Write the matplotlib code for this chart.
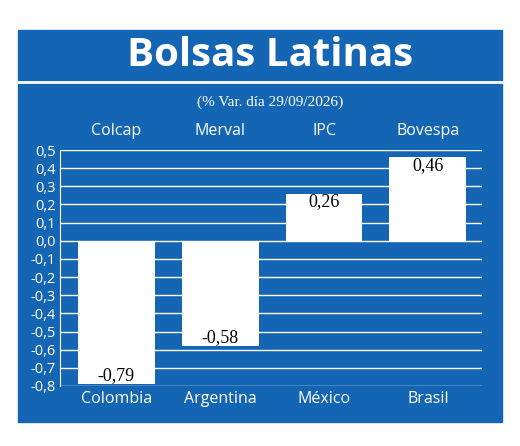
import matplotlib
matplotlib.use("Agg")
import matplotlib.pyplot as plt
from matplotlib.patches import Rectangle

countries = ["Colombia", "Argentina", "México", "Brasil"]
indices = ["Colcap", "Merval", "IPC", "Bovespa"]
values = [-0.79, -0.58, 0.26, 0.46]
yticks = [0.5,0.4,0.3,0.2,0.1,0.0,-0.1,-0.2,-0.3,-0.4,-0.5,-0.6,-0.7,-0.8]

W, H = 520, 446
blue = "#1466b4"
fig = plt.figure(figsize=(5.2, 4.46), dpi=100)
fig.patch.set_facecolor("white")
bg = Rectangle((18/W, 1-422/H), (502-18)/W, (422-30)/H, transform=fig.transFigure, color=blue, zorder=-10)
fig.patches.append(bg)
fig.add_artist(plt.Line2D([18/W, 502/W], [1-82/H, 1-82/H], color="white", lw=2))
fig.text(270/W, 1-55/H, "Bolsas Latinas", color="white", fontsize=29, fontweight="bold",
         family="Open Sans", ha="center", va="center")
fig.text(270/W, 1-102/H, "(% Var. día 29/09/2026)", color="white", fontsize=11,
         family="Liberation Serif", ha="center", va="center")

ax = fig.add_axes([60/W, 1-386/H, (482-60)/W, (386-150)/H])
ax.set_zorder(5)
ax.patch.set_alpha(0)
x = range(len(values))
ax.set_xlim(-0.54, 3.52)
ax.set_ylim(-0.8, 0.5)
for t in yticks:
    ax.axhline(t, color="white", lw=1, zorder=1)
ax.bar(x, values, width=0.74, color="white", zorder=2)
for xi, v in zip(x, values):
    ax.text(xi, v + (0.045 if v < 0 else -0.045), f"{v:.2f}".replace(".", ","),
            ha="center", va="center", fontsize=13, family="Liberation Serif", color="black", zorder=3)
for xi, name in zip(x, indices):
    ax.text(xi, 0.605, name, ha="center", va="center", fontsize=11.5, color="white", family="Open Sans", clip_on=False)
for xi, name in zip(x, countries):
    ax.text(xi, -0.87, name, ha="center", va="center", fontsize=11.5, color="white", family="Open Sans", clip_on=False)
ax.set_yticks(yticks)
ax.set_yticklabels([f"{t:.1f}".replace(".", ",") for t in yticks], color="white", fontsize=10.5, family="Open Sans")
ax.tick_params(axis="y", length=0, pad=3)
ax.set_xticks([])
for s in ["top", "right", "bottom"]:
    ax.spines[s].set_visible(False)
ax.spines["left"].set_color("white")
fig.savefig("out.png", dpi=100)
